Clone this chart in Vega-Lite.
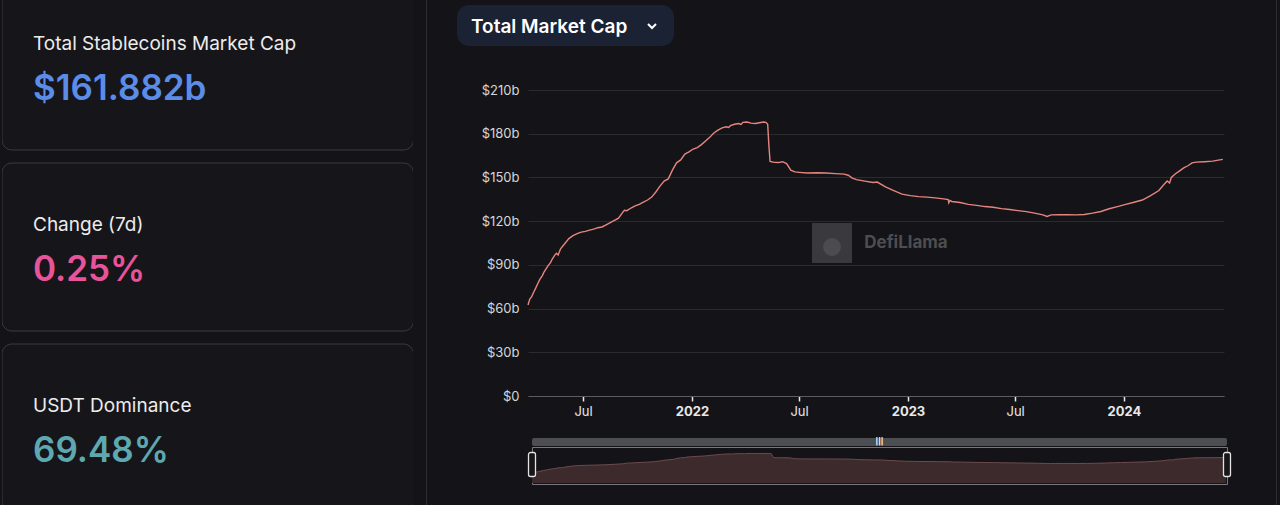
{
  "$schema": "https://vega.github.io/schema/vega-lite/v6.json",
  "background": "#141418",
  "padding": {"left": 2, "right": 4, "top": 0, "bottom": 0},
  "config": {"font": "Inter", "view": {"stroke": null}},
  "datasets": {
    "mcap": [
      {"date": "2021-03-30", "mcap": 62.5},
      {"date": "2021-04-02", "mcap": 66.5},
      {"date": "2021-04-05", "mcap": 68},
      {"date": "2021-04-09", "mcap": 71.5},
      {"date": "2021-04-12", "mcap": 74},
      {"date": "2021-04-16", "mcap": 77.5},
      {"date": "2021-04-19", "mcap": 80},
      {"date": "2021-04-23", "mcap": 82.5},
      {"date": "2021-04-26", "mcap": 85},
      {"date": "2021-05-03", "mcap": 89.5},
      {"date": "2021-05-07", "mcap": 91.5},
      {"date": "2021-05-10", "mcap": 94},
      {"date": "2021-05-14", "mcap": 96.5},
      {"date": "2021-05-17", "mcap": 98},
      {"date": "2021-05-20", "mcap": 96.8},
      {"date": "2021-05-24", "mcap": 101},
      {"date": "2021-05-31", "mcap": 104.5},
      {"date": "2021-06-07", "mcap": 108},
      {"date": "2021-06-14", "mcap": 110},
      {"date": "2021-06-21", "mcap": 111.5},
      {"date": "2021-06-28", "mcap": 112.5},
      {"date": "2021-07-05", "mcap": 113},
      {"date": "2021-07-12", "mcap": 113.8},
      {"date": "2021-07-19", "mcap": 114.5},
      {"date": "2021-07-26", "mcap": 115.5},
      {"date": "2021-08-02", "mcap": 116},
      {"date": "2021-08-09", "mcap": 117.5},
      {"date": "2021-08-16", "mcap": 119},
      {"date": "2021-08-23", "mcap": 120.5},
      {"date": "2021-08-30", "mcap": 122},
      {"date": "2021-09-06", "mcap": 126},
      {"date": "2021-09-09", "mcap": 127.5},
      {"date": "2021-09-13", "mcap": 127.2},
      {"date": "2021-09-20", "mcap": 129},
      {"date": "2021-09-27", "mcap": 130.5},
      {"date": "2021-10-04", "mcap": 131.5},
      {"date": "2021-10-11", "mcap": 133},
      {"date": "2021-10-18", "mcap": 134.5},
      {"date": "2021-10-25", "mcap": 136.5},
      {"date": "2021-11-01", "mcap": 140},
      {"date": "2021-11-08", "mcap": 144},
      {"date": "2021-11-15", "mcap": 147.5},
      {"date": "2021-11-22", "mcap": 149},
      {"date": "2021-11-29", "mcap": 155},
      {"date": "2021-12-06", "mcap": 160},
      {"date": "2021-12-13", "mcap": 162},
      {"date": "2021-12-20", "mcap": 166},
      {"date": "2021-12-27", "mcap": 167.5},
      {"date": "2022-01-03", "mcap": 169.5},
      {"date": "2022-01-10", "mcap": 170.5},
      {"date": "2022-01-17", "mcap": 172.5},
      {"date": "2022-01-24", "mcap": 175},
      {"date": "2022-01-31", "mcap": 177.5},
      {"date": "2022-02-07", "mcap": 180.5},
      {"date": "2022-02-14", "mcap": 182.5},
      {"date": "2022-02-21", "mcap": 184},
      {"date": "2022-02-28", "mcap": 184.8},
      {"date": "2022-03-04", "mcap": 184.3},
      {"date": "2022-03-07", "mcap": 185.5},
      {"date": "2022-03-14", "mcap": 186.5},
      {"date": "2022-03-21", "mcap": 187},
      {"date": "2022-03-25", "mcap": 186.4},
      {"date": "2022-03-28", "mcap": 187.8},
      {"date": "2022-04-04", "mcap": 188},
      {"date": "2022-04-11", "mcap": 187.3},
      {"date": "2022-04-18", "mcap": 187},
      {"date": "2022-04-25", "mcap": 187.5},
      {"date": "2022-05-02", "mcap": 188},
      {"date": "2022-05-06", "mcap": 187.8},
      {"date": "2022-05-09", "mcap": 186.5},
      {"date": "2022-05-11", "mcap": 172},
      {"date": "2022-05-13", "mcap": 161},
      {"date": "2022-05-20", "mcap": 160.3},
      {"date": "2022-05-27", "mcap": 160.2},
      {"date": "2022-06-03", "mcap": 160.8},
      {"date": "2022-06-10", "mcap": 159.5},
      {"date": "2022-06-17", "mcap": 155},
      {"date": "2022-06-24", "mcap": 153.8},
      {"date": "2022-07-01", "mcap": 153.5},
      {"date": "2022-07-15", "mcap": 153},
      {"date": "2022-08-01", "mcap": 153.2},
      {"date": "2022-08-15", "mcap": 153},
      {"date": "2022-09-01", "mcap": 152.6},
      {"date": "2022-09-15", "mcap": 152.3},
      {"date": "2022-09-22", "mcap": 151.5},
      {"date": "2022-09-29", "mcap": 149.5},
      {"date": "2022-10-06", "mcap": 148.5},
      {"date": "2022-10-20", "mcap": 147.5},
      {"date": "2022-11-03", "mcap": 146.5},
      {"date": "2022-11-10", "mcap": 146.8},
      {"date": "2022-11-24", "mcap": 143.5},
      {"date": "2022-12-08", "mcap": 141},
      {"date": "2022-12-22", "mcap": 138.5},
      {"date": "2023-01-05", "mcap": 137.5},
      {"date": "2023-01-19", "mcap": 136.8},
      {"date": "2023-02-02", "mcap": 136.5},
      {"date": "2023-02-16", "mcap": 136},
      {"date": "2023-03-02", "mcap": 135.3},
      {"date": "2023-03-10", "mcap": 134.8},
      {"date": "2023-03-11", "mcap": 132.6},
      {"date": "2023-03-13", "mcap": 134.2},
      {"date": "2023-03-16", "mcap": 133.5},
      {"date": "2023-03-30", "mcap": 132.8},
      {"date": "2023-04-13", "mcap": 131.5},
      {"date": "2023-04-27", "mcap": 130.8},
      {"date": "2023-05-11", "mcap": 130},
      {"date": "2023-05-25", "mcap": 129.5},
      {"date": "2023-06-08", "mcap": 128.6},
      {"date": "2023-06-22", "mcap": 128},
      {"date": "2023-07-06", "mcap": 127.2},
      {"date": "2023-07-20", "mcap": 126.5},
      {"date": "2023-08-03", "mcap": 125.5},
      {"date": "2023-08-17", "mcap": 124.3},
      {"date": "2023-08-24", "mcap": 123.2},
      {"date": "2023-08-31", "mcap": 124.3},
      {"date": "2023-09-14", "mcap": 124.5},
      {"date": "2023-09-28", "mcap": 124.4},
      {"date": "2023-10-12", "mcap": 124.3},
      {"date": "2023-10-26", "mcap": 124.6},
      {"date": "2023-11-09", "mcap": 125.5},
      {"date": "2023-11-23", "mcap": 126.6},
      {"date": "2023-12-07", "mcap": 128.5},
      {"date": "2023-12-21", "mcap": 130},
      {"date": "2024-01-04", "mcap": 131.5},
      {"date": "2024-01-18", "mcap": 133},
      {"date": "2024-02-01", "mcap": 134.5},
      {"date": "2024-02-15", "mcap": 137.5},
      {"date": "2024-02-29", "mcap": 141},
      {"date": "2024-03-07", "mcap": 144.5},
      {"date": "2024-03-14", "mcap": 147.5},
      {"date": "2024-03-18", "mcap": 146.2},
      {"date": "2024-03-21", "mcap": 150},
      {"date": "2024-03-28", "mcap": 152.5},
      {"date": "2024-04-04", "mcap": 154.5},
      {"date": "2024-04-11", "mcap": 156.5},
      {"date": "2024-04-18", "mcap": 158},
      {"date": "2024-04-25", "mcap": 160},
      {"date": "2024-05-02", "mcap": 160.5},
      {"date": "2024-05-16", "mcap": 160.8},
      {"date": "2024-05-30", "mcap": 161.2},
      {"date": "2024-06-06", "mcap": 161.7},
      {"date": "2024-06-16", "mcap": 162.4}
    ],
    "range": [{"date": "2021-03-30"}, {"date": "2024-06-18"}]
  },
  "bounds": "full",
  "spacing": 13,
  "hconcat": [
    {
      "width": 411,
      "height": 505,
      "data": {"values": [
        {"label": "Total Stablecoins Market Cap", "value": "$161.882b"},
        {"label": "Change (7d)", "value": "0.25%"},
        {"label": "USDT Dominance", "value": "69.48%"}
      ]},
      "encoding": {
        "y": {"field": "label", "type": "nominal", "sort": null, "axis": null,
              "scale": {"range": [-18, 512], "paddingInner": 0.0718, "paddingOuter": 0}}
      },
      "layer": [
        {"mark": {"type": "rect", "fill": "#16161a", "stroke": "#3a3b40", "strokeWidth": 1, "cornerRadius": 10, "clip": true, "xOffset": 0.5, "x2Offset": -0.5}},
        {"mark": {"type": "text", "align": "left", "baseline": "alphabetic", "dx": -174.5, "yOffset": -16, "fontSize": 19, "color": "#ececec"},
         "encoding": {"text": {"field": "label"}}},
        {"mark": {"type": "text", "align": "left", "baseline": "alphabetic", "dx": -174.5, "yOffset": 34, "fontSize": 35, "fontWeight": 600},
         "encoding": {"text": {"field": "value"},
                      "color": {"field": "label", "type": "nominal", "legend": null,
                                "scale": {"domain": ["Total Stablecoins Market Cap", "Change (7d)", "USDT Dominance"],
                                          "range": ["#5b8de8", "#e8539a", "#5ea8b1"]}}}}
      ]
    },
    {
      "width": 1, "height": 505,
      "data": {"values": [{}]},
      "mark": {"type": "rect", "color": "#2c2d31"},
      "encoding": {}
    },
    {
      "bounds": "full",
      "spacing": 0,
      "vconcat": [
        {"width": 1, "height": 5, "data": {"values": []}, "mark": {"type": "rect", "opacity": 0}, "encoding": {}},
        {
          "bounds": "flush", "spacing": 0,
          "hconcat": [
            {"width": 17, "height": 41, "data": {"values": []}, "mark": {"type": "rect", "opacity": 0}, "encoding": {}},
            {
              "width": 217, "height": 41,
              "view": {"fill": "#1a2233", "cornerRadius": 12, "stroke": null},
              "data": {"values": [{"metric": "Total Market Cap"}]},
              "layer": [
                {"mark": {"type": "text", "align": "left", "baseline": "middle", "dx": -94.5, "dy": 1.5, "fontSize": 19, "fontWeight": 600, "color": "#ffffff"},
                 "encoding": {"text": {"field": "metric"}}},
                {"mark": {"type": "point", "shape": "M-1,-0.5L0,0.5L1,-0.5", "size": 64, "filled": false, "stroke": "#ffffff", "strokeWidth": 2, "opacity": 1, "xOffset": 86.5, "yOffset": 0.5},
                 "encoding": {}}
              ]
            }
          ]
        },
        {"width": 1, "height": 38, "data": {"values": []}, "mark": {"type": "rect", "opacity": 0}, "encoding": {}},
        {
          "bounds": "flush", "spacing": 0,
          "hconcat": [
            {"width": 88, "height": 306, "data": {"values": []}, "mark": {"type": "rect", "opacity": 0}, "encoding": {}},
            {
              "width": 696, "height": 306,
              "layer": [
                {"data": {"values": [{}]},
                 "mark": {"type": "point", "shape": "square", "size": 1600, "filled": true, "color": "#3a3a3e", "opacity": 1, "xOffset": -44},
                 "encoding": {}},
                {"data": {"values": [{}]},
                 "mark": {"type": "point", "shape": "circle", "size": 320, "filled": true, "color": "#4c4c50", "opacity": 1, "xOffset": -44, "yOffset": 4},
                 "encoding": {}},
                {"data": {"values": [{"wm": "DefiLlama"}]},
                 "mark": {"type": "text", "fontSize": 17, "fontWeight": "bold", "color": "#4d4d52", "dx": 30, "align": "center", "baseline": "middle"},
                 "encoding": {"text": {"field": "wm"}}},
                {"data": {"name": "mcap"},
                 "mark": {"type": "line", "color": "#e6857f", "strokeWidth": 1.4},
                 "encoding": {
                   "x": {"field": "date", "type": "temporal",
                         "scale": {"type": "utc", "domain": [{"year": 2021, "month": 3, "date": 30, "utc": true}, {"year": 2024, "month": 6, "date": 18, "utc": true}]},
                         "axis": {"title": null, "grid": false,
                                  "values": [{"year": 2021, "month": 7, "date": 1, "utc": true}, {"year": 2022, "month": 1, "date": 1, "utc": true}, {"year": 2022, "month": 7, "date": 1, "utc": true}, {"year": 2023, "month": 1, "date": 1, "utc": true}, {"year": 2023, "month": 7, "date": 1, "utc": true}, {"year": 2024, "month": 1, "date": 1, "utc": true}],
                                  "labelExpr": "utcmonth(datum.value) == 0 ? utcFormat(datum.value, '%Y') : 'Jul'",
                                  "labelFontWeight": {"condition": {"test": "utcmonth(datum.value) == 0", "value": "bold"}, "value": "normal"},
                                  "labelColor": "#e8e8e8", "labelFontSize": 13, "labelPadding": 4,
                                  "tickColor": "#e8e8e8", "tickSize": 5, "tickWidth": 1.5,
                                  "domainColor": "#5c5d62", "domainWidth": 1}},
                   "y": {"field": "mcap", "type": "quantitative",
                         "scale": {"domain": [0, 210], "nice": false},
                         "axis": {"title": null, "values": [0, 30, 60, 90, 120, 150, 180, 210],
                                  "labelExpr": "datum.value == 0 ? '$0' : '$' + datum.value + 'b'",
                                  "domain": false, "ticks": false, "labelPadding": 9,
                                  "labelColor": "#d6d6d6", "labelFontSize": 13,
                                  "gridColor": "#2a2b2f", "gridWidth": 1}}
                 }}
              ]
            }
          ]
        },
        {"width": 1, "height": 19.5, "data": {"values": []}, "mark": {"type": "rect", "opacity": 0}, "encoding": {}},
        {
          "bounds": "flush", "spacing": 0,
          "hconcat": [
            {"width": 92, "height": 8, "data": {"values": []}, "mark": {"type": "rect", "opacity": 0}, "encoding": {}},
            {
              "width": 695, "height": 8,
              "view": {"fill": "#4c4e53", "cornerRadius": 2, "stroke": null},
              "data": {"values": [{"g": "|||"}]},
              "mark": {"type": "text", "color": "#ffffff", "fontSize": 7, "fontWeight": "bold", "baseline": "middle", "align": "center"},
              "encoding": {"text": {"field": "g"}}
            }
          ]
        },
        {
          "bounds": "flush", "spacing": 0,
          "hconcat": [
            {"width": 92, "height": 37, "data": {"values": []}, "mark": {"type": "rect", "opacity": 0}, "encoding": {}},
            {
              "width": 695, "height": 37,
              "view": {"stroke": "#77787d", "strokeWidth": 1},
              "layer": [
                {"data": {"name": "mcap"},
                 "mark": {"type": "area", "color": "#3c2a2c", "opacity": 1, "line": {"color": "#6e4a4c", "strokeWidth": 1}},
                 "encoding": {
                   "x": {"field": "date", "type": "temporal",
                         "scale": {"type": "utc", "domain": [{"year": 2021, "month": 3, "date": 30, "utc": true}, {"year": 2024, "month": 6, "date": 18, "utc": true}]},
                         "axis": null},
                   "y": {"field": "mcap", "type": "quantitative", "scale": {"domain": [0, 280], "range": [36, -8], "nice": false}, "axis": null}
                 }},
                {"data": {"name": "range"},
                 "mark": {"type": "tick", "size": 24, "thickness": 7, "color": "#17171a", "opacity": 1, "stroke": "#e3e3e3", "strokeWidth": 1.3, "cornerRadius": 2, "yOffset": -1},
                 "encoding": {"x": {"field": "date", "type": "temporal"}}}
              ]
            }
          ]
        }
      ]
    },
    {"width": 18, "height": 505, "data": {"values": []}, "mark": {"type": "rect", "opacity": 0}, "encoding": {}},
    {
      "width": 1, "height": 505,
      "data": {"values": [{}]},
      "mark": {"type": "rect", "color": "#2c2d31"},
      "encoding": {}
    }
  ]
}
